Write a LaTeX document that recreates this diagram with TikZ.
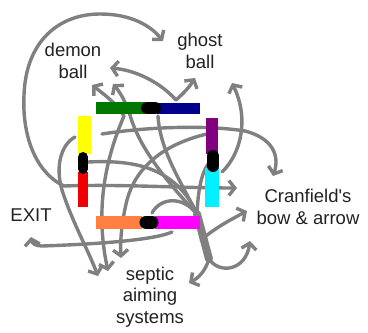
\documentclass[tikz,border=0pt]{standalone}
\usepackage{fontspec}
\setmainfont{Liberation Sans}[Ligatures=TeXOff]
\usetikzlibrary{arrows.meta}
\definecolor{ln}{RGB}{128,128,128}
\definecolor{txt}{RGB}{34,34,34}
\definecolor{cgreen}{RGB}{0,120,0}
\definecolor{cnavy}{RGB}{0,0,140}
\definecolor{cyel}{RGB}{255,255,0}
\definecolor{cred}{RGB}{240,0,0}
\definecolor{cpurp}{RGB}{128,0,128}
\definecolor{ccyan}{RGB}{0,240,255}
\definecolor{corange}{RGB}{255,128,64}
\definecolor{cmag}{RGB}{255,0,255}
\tikzset{
  lbl/.style={text=txt,align=center,inner sep=0pt,font=\fontsize{18.5}{21.5}\selectfont},
  curve/.style={draw=ln,line width=3.4pt,line cap=round},
  arr/.style={curve,-{Straight Barb[length=6pt,width=15pt,line width=3.4pt]}},
  seg/.style={line cap=butt,line width=#1},
}
\begin{document}
\begin{tikzpicture}[x=1pt,y=-1pt]
\useasboundingbox (0,0) rectangle (368,333);
\fill[white] (0,0) rectangle (368,333);
% labels
\node[lbl] (demon) at (73,61) {demon\\ball};
\node[lbl] (ghost) at (200,51) {ghost\\ball};
\node[lbl] (cran) at (308,207) {Cranfield's\\bow \& arrow};
\node[lbl] (exit) at (31,215) {EXIT};
\node[lbl] (septic) at (150,297) {septic\\aiming\\systems};
% named points
\coordinate (hub) at (197,214);
\coordinate (hubb) at (209,259);
\coordinate (lft) at (64,186);
% curves
\draw[arr] (lft) .. controls (35,172) and (22,135) .. (24,95) .. controls (26,40) and (60,14) .. (100,14) .. controls (130,14) and (150,25) .. (163,41);
\draw[arr] (lft) .. controls (120,184) and (180,188) .. (237,188);
\draw[arr] (75,137) .. controls (60,145) and (54,170) .. (64,196) .. controls (74,225) and (88,250) .. (98,276);
\draw[arr] (124,116) .. controls (105,160) and (95,210) .. (108,271);
\draw[arr] (207,134) .. controls (160,145) and (135,170) .. (127,200) .. controls (122,220) and (120,240) .. (121,258);
\draw[arr] (102,134) .. controls (140,128) and (200,124) .. (245,131) .. controls (272,138) and (280,155) .. (273,176);
\draw[arr] (hub) .. controls (170,185) and (140,150) .. (130,115) .. controls (125,100) and (119,91) .. (113,84);
\draw[arr] (124,116) .. controls (118,105) and (105,95) .. (92,85);
\draw[arr] (176,100) .. controls (160,82) and (135,70) .. (110,68);
\draw[arr] (176,100) .. controls (185,92) and (190,86) .. (195,78);
\draw[curve] (158,116) .. controls (160,150) and (180,180) .. (hub);
\draw[arr] (222,172) .. controls (240,155) and (250,120) .. (232,83);
\draw[curve] (88,162) .. controls (130,160) and (175,165) .. (hub);
\draw[curve] (214,158) .. controls (200,168) and (198,195) .. (hub);
\draw[curve] (152,213) .. controls (160,198) and (182,195) .. (hub);
\draw[arr] (172,232) .. controls (150,242) and (70,245) .. (42,246) .. controls (35,246) and (32,243) .. (31,237);
\draw[arr] (201,240) .. controls (215,228) and (230,220) .. (247,211);
\draw[arr] (hubb) .. controls (220,275) and (246,270) .. (250,241);
\draw[arr] (hubb) .. controls (205,272) and (198,278) .. (189,283);
\draw[ln,line width=8pt,line cap=round] (hub) -- (hubb);
% colored square segments
\draw[cgreen,seg=12pt] (96,108) -- (145,108);
\draw[cnavy,seg=11pt] (157,108) -- (200,108);
\draw[black,seg=12pt,line cap=round] (147,108) -- (155,108);
\draw[cyel,seg=13pt] (85,116) -- (85,154);
\draw[cred,seg=10pt] (83,172) -- (83,207);
\draw[black,seg=10pt,line cap=round] (83,157) -- (83,169);
\draw[cpurp,seg=12pt] (212,118) -- (212,154);
\draw[ccyan,seg=14pt] (212,168) -- (212,207);
\draw[black,seg=12pt,line cap=round] (213,156) -- (213,166);
\draw[corange,seg=13pt] (96,222) -- (142,222);
\draw[cmag,seg=13pt] (155,222) -- (200,222);
\draw[black,seg=13pt,line cap=round] (146,222) -- (152,222);
\end{tikzpicture}
\end{document}
